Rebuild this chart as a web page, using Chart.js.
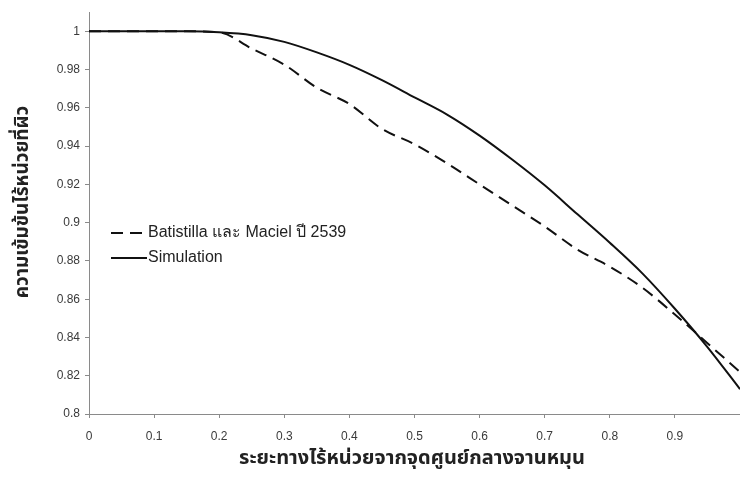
<!DOCTYPE html>
<html>
<head>
<meta charset="utf-8">
<script src="https://cdn.jsdelivr.net/npm/chart.js@4"></script>
<style>
  html, body { margin: 0; padding: 0; background: #fff; }
  #wrap { position: relative; width: 740px; height: 498px; }
</style>
</head>
<body>
<div id="wrap"><canvas id="chart" width="740" height="498"></canvas></div>
<script>
/* Surface concentration vs. dimensionless radius. */
var DIST = [0, 0.05, 0.1, 0.15, 0.2, 0.25, 0.3, 0.35, 0.4, 0.45, 0.5, 0.55, 0.6, 0.65, 0.7, 0.75, 0.8, 0.85, 0.9, 0.95, 1.0];
var BATISTILLA = [1, 1, 1, 1, 0.9995, 0.991, 0.9826, 0.9705, 0.962, 0.949, 0.941, 0.931, 0.920, 0.909, 0.898, 0.886, 0.877, 0.866, 0.852, 0.837, 0.822];
var SIMULATION = [1, 1, 1, 1, 0.9995, 0.998, 0.9945, 0.989, 0.9825, 0.9745, 0.9655, 0.9565, 0.9455, 0.933, 0.9195, 0.9045, 0.8895, 0.8735, 0.855, 0.835, 0.813];
var X_TICKS = [0, 0.1, 0.2, 0.3, 0.4, 0.5, 0.6, 0.7, 0.8, 0.9];
var Y_TICKS = [0.8, 0.82, 0.84, 0.86, 0.88, 0.9, 0.92, 0.94, 0.96, 0.98, 1];
var LABELS = ["Batistilla และ Maciel ปี 2539", "Simulation"];
var X_TITLE = "ระยะทางไร้หน่วยจากจุดศูนย์กลางจานหมุน";
var Y_TITLE = "ความเข้มข้นไร้หน่วยที่ผิว";

var THAI = '"Noto Sans Thai", Loma, Garuda, "Tlwg Typo", "DejaVu Sans", sans-serif';
var NARROW = '"Liberation Sans Narrow", "Arial Narrow", "Liberation Sans", Arial, sans-serif';
var TICKFONT = { family: '"Liberation Sans", Arial, sans-serif', size: 12 };
var AXIS = "#8a8a8a", TEXT = "#3a3a3a", LINE = "#111";

function pts(ys) {
  return DIST.map(function (x, i) { return { x: x, y: ys[i] }; });
}
function fmt(v) { return String(Number(v.toFixed(2))); }

// titles + legend drawn by hand so they sit where the scan has them
var extras = {
  id: "extras",
  afterDraw: function (chart) {
    var c = chart.ctx;
    c.save();
    c.fillStyle = "#222";
    c.textAlign = "center";
    c.textBaseline = "middle";
    c.font = "bold 20px " + THAI;
    c.fillText(X_TITLE, 412, 460);
    c.translate(24, 202);
    c.rotate(-Math.PI / 2);
    c.font = "bold 19px " + THAI;
    c.fillText(Y_TITLE, 0, 0);
    c.restore();

    c.save();
    c.font = "16px " + NARROW;
    c.textBaseline = "middle";
    c.fillStyle = "#222";
    c.strokeStyle = LINE;
    c.lineWidth = 2;
    var rows = [233, 258];
    chart.data.datasets.forEach(function (ds, i) {
      var y = rows[i];
      c.beginPath();
      c.setLineDash(ds.borderDash || []);
      c.moveTo(111, y);
      c.lineTo(147, y);
      c.stroke();
      c.setLineDash([]);
      c.fillText(ds.label, 148, y);
    });
    c.restore();
  }
};

new Chart(document.getElementById("chart"), {
  type: "line",
  data: {
    datasets: [
      { label: LABELS[0], data: pts(BATISTILLA), borderColor: LINE, borderWidth: 2, borderDash: [12, 7],
        pointRadius: 0, cubicInterpolationMode: "monotone", fill: false },
      { label: LABELS[1], data: pts(SIMULATION), borderColor: LINE, borderWidth: 2,
        pointRadius: 0, cubicInterpolationMode: "monotone", fill: false }
    ]
  },
  options: {
    responsive: false,
    animation: false,
    layout: { padding: { top: 4, right: 0, left: 0, bottom: 0 } },
    plugins: { legend: { display: false }, tooltip: { enabled: false } },
    scales: {
      x: {
        type: "linear", min: 0, max: 1,
        afterBuildTicks: function (s) { s.ticks = X_TICKS.map(function (v) { return { value: v }; }); },
        afterFit: function (s) { s.height = 84; },
        grid: { drawOnChartArea: false, drawTicks: true, tickLength: 4, color: AXIS },
        border: { color: AXIS, width: 1 },
        ticks: { color: TEXT, padding: 11, maxRotation: 0, font: TICKFONT, callback: fmt }
      },
      y: {
        min: 0.8, max: 1.01,
        afterBuildTicks: function (s) { s.ticks = Y_TICKS.map(function (v) { return { value: v }; }); },
        afterFit: function (s) { s.width = 89; },
        grid: { drawOnChartArea: false, drawTicks: true, tickLength: 4, color: AXIS },
        border: { color: AXIS, width: 1 },
        ticks: { color: TEXT, padding: 5, font: TICKFONT, callback: fmt }
      }
    }
  },
  plugins: [extras]
});
</script>
</body>
</html>
